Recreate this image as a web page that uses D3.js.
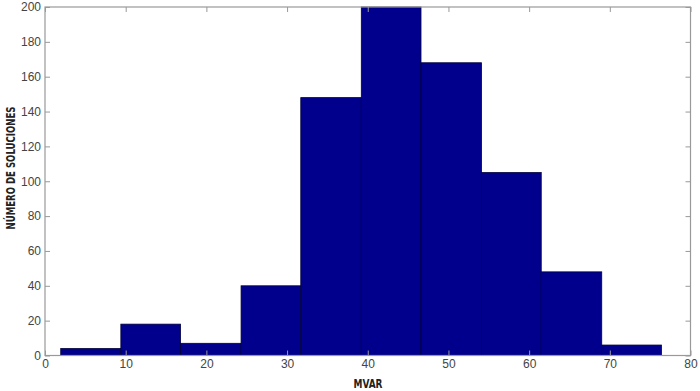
<!DOCTYPE html>
<html lang="es">
<head>
<meta charset="UTF-8">
<title>Histograma MVAR</title>
<style>
	*{margin:0;padding:0;}
	body{background:#fff;}
	.tick text{font-family:"Liberation Sans", Arial, sans-serif;font-size:12px;fill:#444;}
	.lbl{font-family:"DejaVu Sans Condensed","DejaVu Sans",sans-serif;font-stretch:condensed;font-weight:bold;font-size:12px;fill:#222;}
</style>
</head>
<body>
<div id="container"></div>
<script src="https://cdn.jsdelivr.net/npm/d3@7"></script>
<script>
var binEdges = [1.95, 9.4, 16.8, 24.3, 31.7, 39.2, 46.6, 54.1, 61.5, 69.0, 76.4],
	counts = [4, 18, 7, 40, 148, 200, 168, 105, 48, 6],
	xTicks = [0, 10, 20, 30, 40, 50, 60, 70, 80],
	yTicks = [0, 20, 40, 60, 80, 100, 120, 140, 160, 180, 200]

var W = 700, H = 391,
	mLeft = 45, mRight = 690.5, mTop = 7, mBottom = 355.5,
	axisColor = '#999'

var svg = d3.select('#container').append('svg').attr('width', W).attr('height', H)

var x = d3.scaleLinear().domain([0, 80]).range([mLeft, mRight])
var y = d3.scaleLinear().domain([0, 200]).range([mBottom, mTop])

// bars
svg.append('g').selectAll('rect')
	.data(counts)
	.enter()
	.append('rect')
	.attr('x', function (d, i) { return x(binEdges[i]) })
	.attr('width', function (d, i) { return x(binEdges[i + 1]) - x(binEdges[i]) })
	.attr('y', function (d) { return y(d) })
	.attr('height', function (d) { return mBottom - y(d) })
	.attr('fill', '#00008c')
	.attr('stroke', '#00003a')
	.attr('stroke-width', 0.8)

function styleAxis(g, noText) {
	g.select('.domain').remove()
	g.selectAll('.tick line').attr('stroke', axisColor)
	if (noText) g.selectAll('.tick text').remove()
}

// bottom and left with labels, ticks inside
svg.append('g').attr('transform', `translate(0,${mBottom})`)
	.call(d3.axisBottom(x).tickValues(xTicks).tickSizeInner(-5).tickSizeOuter(0).tickPadding(4))
	.call(function (g) { styleAxis(g) })
svg.append('g').attr('transform', `translate(${mLeft},0)`)
	.call(d3.axisLeft(y).tickValues(yTicks).tickSizeInner(-5).tickSizeOuter(0).tickPadding(4))
	.call(function (g) { styleAxis(g) })
// top and right, ticks only
svg.append('g').attr('transform', `translate(0,${mTop})`)
	.call(d3.axisTop(x).tickValues(xTicks).tickSizeInner(-5).tickSizeOuter(0))
	.call(function (g) { styleAxis(g, true) })
svg.append('g').attr('transform', `translate(${mRight},0)`)
	.call(d3.axisRight(y).tickValues(yTicks).tickSizeInner(-5).tickSizeOuter(0))
	.call(function (g) { styleAxis(g, true) })

// box
svg.append('rect')
	.attr('x', mLeft).attr('y', mTop)
	.attr('width', mRight - mLeft).attr('height', mBottom - mTop)
	.attr('fill', 'none').attr('stroke', axisColor).attr('stroke-width', 1.2)

svg.append('text').attr('class', 'lbl')
	.attr('x', 368).attr('y', 388)
	.attr('text-anchor', 'middle')
	.attr('textLength', 29).attr('lengthAdjust', 'spacingAndGlyphs')
	.text('MVAR')
svg.append('text').attr('class', 'lbl')
	.attr('transform', 'translate(15,168) rotate(-90)')
	.attr('text-anchor', 'middle')
	.attr('textLength', 123).attr('lengthAdjust', 'spacingAndGlyphs')
	.text('NÚMERO DE SOLUCIONES')
</script>
</body>
</html>
